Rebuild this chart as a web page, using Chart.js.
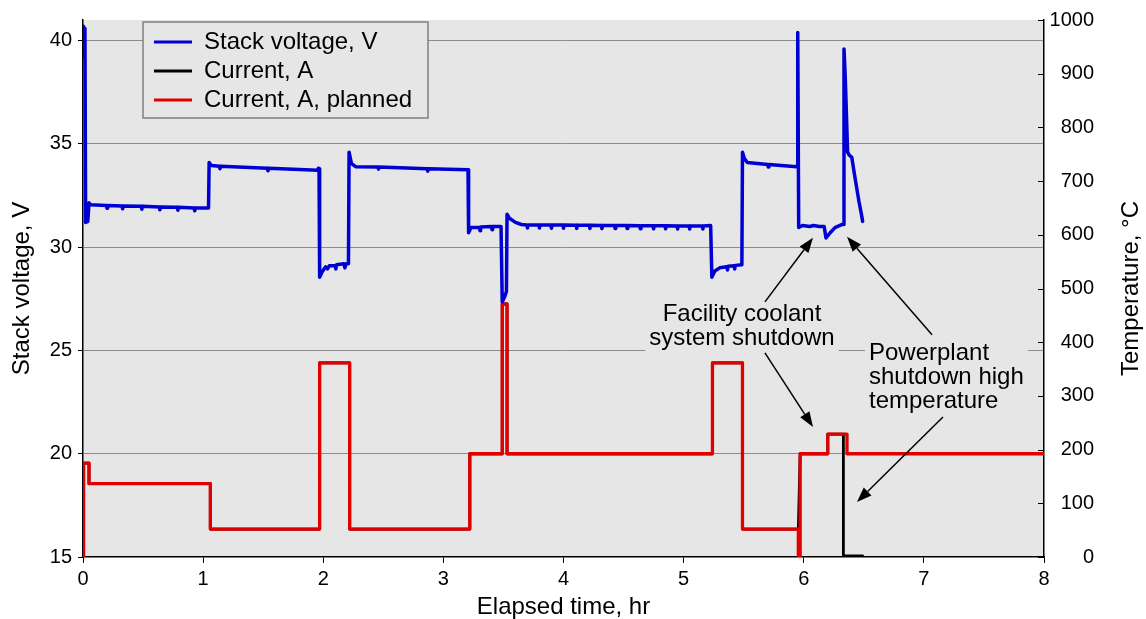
<!DOCTYPE html>
<html>
<head>
<meta charset="utf-8">
<script src="https://cdn.jsdelivr.net/npm/chart.js@4.4.1/dist/chart.umd.min.js"></script>
<style>
  html, body { margin: 0; padding: 0; background: #fff; }
  canvas { display: block; }
</style>
</head>
<body>
<canvas id="chart" width="1146" height="619"></canvas>
<script>
// stack voltage, V (left axis) vs elapsed time, hr
const voltageHr = [
  0.000, 0.004, 0.010, 0.016, 0.022, 0.040, 0.050, 0.065,
  0.195, 0.200, 0.205, 0.325, 0.330, 0.335, 0.485, 0.490, 0.495,
  0.635, 0.640, 0.645, 0.785, 0.790, 0.795, 0.925, 0.930, 0.935, 1.045,
  1.050, 1.070, 1.135, 1.140, 1.145, 1.535, 1.540, 1.545, 1.955, 1.960, 1.965,
  1.970, 1.990, 2.020, 2.035, 2.050, 2.100, 2.105, 2.110, 2.170, 2.180, 2.190, 2.210,
  2.215, 2.235, 2.270, 2.455, 2.460, 2.465, 2.865, 2.870, 2.875, 3.205,
  3.210, 3.230, 3.300, 3.305, 3.310, 3.400, 3.405, 3.410, 3.480,
  3.490, 3.510, 3.525, 3.530, 3.550, 3.600, 3.650,
  3.695, 3.700, 3.705, 3.795, 3.800, 3.805, 3.895, 3.900, 3.905,
  3.995, 4.000, 4.005, 4.105, 4.110, 4.115, 4.215, 4.220, 4.225,
  4.315, 4.320, 4.325, 4.425, 4.430, 4.435, 4.525, 4.530, 4.535,
  4.635, 4.640, 4.645, 4.745, 4.750, 4.755, 4.845, 4.850, 4.855,
  4.945, 4.950, 4.955, 5.045, 5.050, 5.055, 5.155, 5.160, 5.165, 5.225,
  5.235, 5.260, 5.300, 5.360, 5.365, 5.370, 5.420, 5.425, 5.430, 5.485,
  5.490, 5.505, 5.530, 5.700, 5.705, 5.710, 5.940, 5.945,
  5.950, 5.958, 5.990, 6.050, 6.080, 6.130, 6.170,
  6.185, 6.220, 6.260, 6.320, 6.330,
  6.335, 6.345, 6.355, 6.365, 6.380, 6.400, 6.420, 6.440, 6.460, 6.480, 6.490
];
const voltageV = [
  39.30, 40.70, 39.20, 40.60, 31.20, 31.25, 32.15, 32.05,
  32.02, 31.88, 32.02, 32.00, 31.86, 32.00, 31.98, 31.84, 31.98,
  31.95, 31.81, 31.95, 31.93, 31.79, 31.93, 31.90, 31.76, 31.90, 31.90,
  34.10, 33.95, 33.92, 33.80, 33.92, 33.82, 33.70, 33.82, 33.72, 33.82, 33.80,
  28.55, 28.80, 29.05, 28.95, 29.10, 29.10, 28.95, 29.15, 29.20, 29.00, 29.20, 29.20,
  34.60, 34.05, 33.90, 33.88, 33.78, 33.88, 33.80, 33.68, 33.80, 33.75,
  30.70, 30.95, 30.95, 30.80, 30.98, 31.00, 30.85, 31.00, 31.00,
  27.35, 27.60, 27.85, 31.60, 31.40, 31.20, 31.10,
  31.08, 30.93, 31.08, 31.08, 30.93, 31.08, 31.07, 30.92, 31.07,
  31.07, 30.92, 31.07, 31.06, 30.91, 31.06, 31.06, 30.91, 31.06,
  31.05, 30.90, 31.05, 31.05, 30.90, 31.05, 31.05, 30.90, 31.05,
  31.04, 30.89, 31.04, 31.04, 30.89, 31.04, 31.04, 30.89, 31.04,
  31.03, 30.88, 31.03, 31.03, 30.88, 31.03, 31.03, 30.88, 31.03, 31.05,
  28.55, 28.85, 29.00, 29.05, 28.90, 29.08, 29.10, 28.95, 29.12, 29.15,
  34.60, 34.30, 34.10, 34.00, 33.88, 34.00, 33.90, 33.95,
  40.40, 30.95, 31.05, 31.00, 31.05, 31.00, 31.00,
  30.45, 30.70, 30.95, 31.10, 31.10,
  39.60, 38.30, 36.50, 34.60, 34.45, 34.35, 33.60, 32.90, 32.20, 31.60, 31.25
];

// measured current, A (same scale as the left axis)
const currentHr = [
  0.000, 0.005, 0.050, 0.050, 1.060, 1.060, 1.970, 1.970, 2.220, 2.220,
  3.220, 3.220, 3.490, 3.490, 3.530, 3.530, 5.240, 5.240, 5.490, 5.490,
  5.955, 5.970, 6.200, 6.200, 6.330, 6.330, 6.490
];
const currentA = [
  15.00, 19.55, 19.55, 18.55, 18.55, 16.35, 16.35, 24.40, 24.40, 16.35,
  16.35, 20.00, 20.00, 27.25, 27.25, 20.00, 20.00, 24.40, 24.40, 16.35,
  16.35, 20.00, 20.00, 20.95, 20.95, 15.05, 15.05
];

// planned current, A
const plannedHr = [
  0.000, 0.005, 0.050, 0.050, 1.060, 1.060, 1.970, 1.970, 2.220, 2.220,
  3.220, 3.220, 3.490, 3.490, 3.530, 3.530, 5.240, 5.240, 5.490, 5.490,
  5.955, 5.955, 5.970, 5.970, 6.200, 6.200, 6.360, 6.360, 8.000
];
const plannedA = [
  15.00, 19.55, 19.55, 18.55, 18.55, 16.35, 16.35, 24.40, 24.40, 16.35,
  16.35, 20.00, 20.00, 27.25, 27.25, 20.00, 20.00, 24.40, 24.40, 16.35,
  16.35, 15.00, 15.00, 20.00, 20.00, 20.95, 20.95, 20.00, 20.00
];

const seriesLabels = ['Stack voltage, V', 'Current, A', 'Current, A, planned'];
const voltTicks = [15, 20, 25, 30, 35, 40];
const tempTicks = [0, 100, 200, 300, 400, 500, 600, 700, 800, 900, 1000];
const xTitle = 'Elapsed time, hr';
const yTitle = 'Stack voltage, V';
const y2Title = 'Temperature, °C';

// callout texts, anchored in data units (hr, V)
const coolantNote = ['Facility coolant', 'system shutdown'];
const coolantAt = [5.486, 26.74];
const plantNote = ['Powerplant', 'shutdown high', 'temperature'];
const plantAt = [6.543, 24.88];
// arrows: tail hr, tail V, head hr, head V
const arrows = [
  [5.677, 27.35, 6.077, 30.46],
  [5.677, 24.88, 6.077, 21.30],
  [7.068, 25.76, 6.360, 30.50],
  [7.159, 21.78, 6.443, 17.66]
];

const FONT = '"Liberation Sans", Arial, sans-serif';
const PLOT_BG = '#e6e6e6';
const GRID = '#8c8c8c';
const BLUE = '#0000d2';
const RED = '#e00000';

function pts(xs, ys) {
  return xs.map((t, i) => ({ x: t, y: ys[i] }));
}

function drawArrow(ctx, x1, y1, x2, y2) {
  const ang = Math.atan2(y2 - y1, x2 - x1);
  const len = 15, half = 5.5;
  const bx = x2 - len * Math.cos(ang), by = y2 - len * Math.sin(ang);
  ctx.beginPath();
  ctx.moveTo(x1, y1);
  ctx.lineTo(bx, by);
  ctx.stroke();
  ctx.beginPath();
  ctx.moveTo(x2, y2);
  ctx.lineTo(bx + half * Math.sin(ang), by - half * Math.cos(ang));
  ctx.lineTo(bx - half * Math.sin(ang), by + half * Math.cos(ang));
  ctx.closePath();
  ctx.fill();
}

function drawNote(ctx, lines, px, py, align) {
  const lh = 24;
  const w = Math.max(...lines.map(l => ctx.measureText(l).width));
  const left = align === 'center' ? px - w / 2 : px;
  ctx.fillStyle = PLOT_BG;
  ctx.fillRect(left - 4, py - 14, w + 8, lh * (lines.length - 1) + 28);
  ctx.fillStyle = '#000';
  ctx.textAlign = align;
  lines.forEach((l, i) => ctx.fillText(l, px, py + i * lh));
}

const decor = {
  id: 'decor',
  beforeDraw(chart) {
    const { ctx, chartArea: a } = chart;
    ctx.save();
    ctx.fillStyle = PLOT_BG;
    ctx.fillRect(a.left, a.top, a.right - a.left, a.bottom - a.top);
    ctx.restore();
  },
  afterDraw(chart) {
    const { ctx, chartArea: a } = chart;
    const sx = chart.scales.x, sy = chart.scales.y, sy2 = chart.scales.y2;
    ctx.save();
    ctx.font = '24px ' + FONT;
    ctx.textBaseline = 'middle';

    // callouts
    drawNote(ctx, coolantNote, sx.getPixelForValue(coolantAt[0]), sy.getPixelForValue(coolantAt[1]), 'center');
    drawNote(ctx, plantNote, sx.getPixelForValue(plantAt[0]), sy.getPixelForValue(plantAt[1]), 'left');
    ctx.strokeStyle = '#000';
    ctx.fillStyle = '#000';
    ctx.lineWidth = 1.5;
    arrows.forEach(r => drawArrow(ctx,
      sx.getPixelForValue(r[0]), sy.getPixelForValue(r[1]),
      sx.getPixelForValue(r[2]), sy.getPixelForValue(r[3])));

    // legend box
    const lx = a.left + 60, ly = a.top + 2, lw = 285, lh = 96;
    ctx.fillStyle = PLOT_BG;
    ctx.fillRect(lx, ly, lw, lh);
    ctx.strokeStyle = '#808080';
    ctx.lineWidth = 1.5;
    ctx.strokeRect(lx, ly, lw, lh);
    chart.data.datasets.forEach((ds, i) => {
      const ry = ly + 20 + i * 29;
      ctx.strokeStyle = ds.borderColor;
      ctx.lineWidth = 3;
      ctx.beginPath();
      ctx.moveTo(lx + 11, ry);
      ctx.lineTo(lx + 49, ry);
      ctx.stroke();
      ctx.fillStyle = '#000';
      ctx.textAlign = 'left';
      ctx.fillText(ds.label, lx + 61, ry);
    });

    // inward ticks of the right axis
    ctx.strokeStyle = '#000';
    ctx.lineWidth = 1;
    sy2.ticks.forEach(t => {
      const py = Math.round(sy2.getPixelForValue(t.value)) + 0.5;
      ctx.beginPath();
      ctx.moveTo(a.right - 6, py);
      ctx.lineTo(a.right, py);
      ctx.stroke();
    });

    // axis titles
    ctx.fillStyle = '#000';
    ctx.textAlign = 'center';
    const cy = (a.top + a.bottom) / 2;
    ctx.save();
    ctx.translate(22, cy);
    ctx.rotate(-Math.PI / 2);
    ctx.fillText(yTitle, 0, 0);
    ctx.restore();
    ctx.save();
    ctx.translate(chart.width - 15, cy);
    ctx.rotate(-Math.PI / 2);
    ctx.fillText(y2Title, 0, 0);
    ctx.restore();
    ctx.fillText(xTitle, (a.left + a.right) / 2, 607);
    ctx.restore();
  }
};

const tickFont = { family: FONT, size: 20 };

new Chart(document.getElementById('chart'), {
  type: 'line',
  data: {
    datasets: [
      { label: seriesLabels[0], data: pts(voltageHr, voltageV), borderColor: BLUE, borderWidth: 3.5, order: 0 },
      { label: seriesLabels[1], data: pts(currentHr, currentA), borderColor: '#000', borderWidth: 2.8, order: 2 },
      { label: seriesLabels[2], data: pts(plannedHr, plannedA), borderColor: RED, borderWidth: 3.3, order: 1 }
    ]
  },
  options: {
    responsive: false,
    devicePixelRatio: 1,
    animation: false,
    events: [],
    layout: { padding: { top: 20, right: 52, left: 0, bottom: 0 } },
    elements: {
      point: { radius: 0 },
      line: { tension: 0, borderJoinStyle: 'round', borderCapStyle: 'round', fill: false }
    },
    plugins: { legend: { display: false }, tooltip: { enabled: false } },
    scales: {
      x: {
        type: 'linear', min: 0, max: 8,
        ticks: { stepSize: 1, font: tickFont, color: '#000', padding: 4, maxRotation: 0 },
        grid: { drawOnChartArea: false, tickLength: 6, tickColor: '#000' },
        border: { color: '#000', width: 1.5 },
        afterFit(s) { s.height = 62; }
      },
      y: {
        type: 'linear', position: 'left', min: 15, max: 41,
        ticks: { font: tickFont, color: '#000', padding: 6, callback: v => String(v) },
        afterBuildTicks(s) { s.ticks = voltTicks.map(v => ({ value: v })); },
        grid: {
          color: c => (c.tick && c.tick.value === 15 ? 'rgba(0,0,0,0)' : GRID),
          tickColor: '#000', tickLength: 5, lineWidth: 1
        },
        border: { color: '#000', width: 1.5 },
        afterFit(s) { s.width = 83; }
      },
      y2: {
        type: 'linear', position: 'right', min: 0, max: 1000,
        ticks: { font: tickFont, color: '#000', padding: 6, crossAlign: 'far', callback: v => String(v) },
        afterBuildTicks(s) { s.ticks = tempTicks.map(v => ({ value: v })); },
        grid: { drawOnChartArea: false, drawTicks: false },
        border: { color: '#000', width: 1.5 },
        afterFit(s) { s.width = 50; }
      }
    }
  },
  plugins: [decor]
});
</script>
</body>
</html>
